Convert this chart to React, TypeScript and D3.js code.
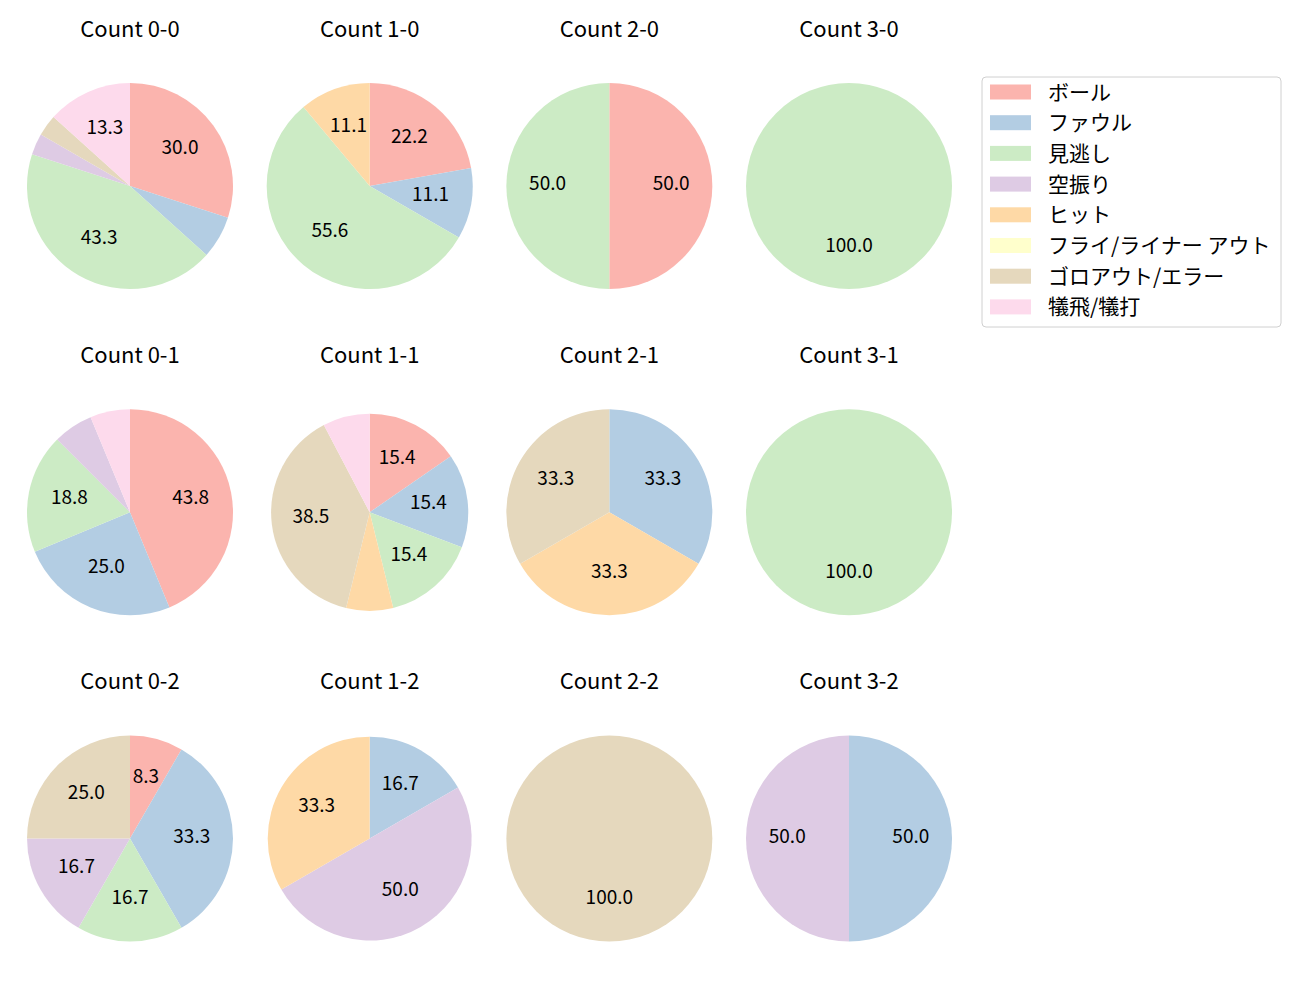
import React from "react";
import * as d3 from "d3";

const categories = [
  "ボール",
  "ファウル",
  "見逃し",
  "空振り",
  "ヒット",
  "フライ/ライナー アウト",
  "ゴロアウト/エラー",
  "犠飛/犠打",
];

const colors = ["#fbb4ae", "#b3cde3", "#ccebc5", "#decbe4", "#fed9a6", "#ffffcc", "#e5d8bd", "#fddaec"];

const countLabels = ["0-0", "1-0", "2-0", "3-0", "0-1", "1-1", "2-1", "3-1", "0-2", "1-2", "2-2", "3-2"];

// pitch-outcome counts per ball-strike count, in category order
const c00 = [9, 2, 13, 1, 0, 0, 1, 4];
const c10 = [2, 1, 5, 0, 1, 0, 0, 0];
const c20 = [1, 0, 1, 0, 0, 0, 0, 0];
const c30 = [0, 0, 1, 0, 0, 0, 0, 0];
const c01 = [7, 4, 3, 1, 0, 0, 0, 1];
const c11 = [2, 2, 2, 0, 1, 0, 5, 1];
const c21 = [0, 1, 0, 0, 1, 0, 1, 0];
const c31 = [0, 0, 1, 0, 0, 0, 0, 0];
const c02 = [1, 4, 2, 2, 0, 0, 3, 0];
const c12 = [0, 1, 0, 3, 2, 0, 0, 0];
const c22 = [0, 0, 0, 0, 0, 0, 1, 0];
const c32 = [0, 1, 0, 1, 0, 0, 0, 0];

const panelValues = [c00, c10, c20, c30, c01, c11, c21, c31, c02, c12, c22, c32];

const FONT = "'Noto Sans CJK JP', 'Noto Sans', sans-serif";
const W = 1300;
const H = 1000;
const col0 = 130;
const colStep = 239.67;
const row0 = 186;
const rowStep = 326.3;
const R = 103;
const radiusFactor = [1, 1, 1, 1, 1, 0.957, 1, 1, 1, 0.99, 1, 1];

function Pie({ values, title, cx, cy, r }: { values: number[]; title: string; cx: number; cy: number; r: number }) {
  const total = d3.sum(values);
  const pie = d3
    .pie<number>()
    .sort(null)
    .value((d) => d)
    .startAngle(0)
    .endAngle(2 * Math.PI);
  const arcs = pie(values);
  const arc = d3.arc<d3.PieArcDatum<number>>().innerRadius(0).outerRadius(r);
  const labelArc = d3.arc<d3.PieArcDatum<number>>().innerRadius(r * 0.6).outerRadius(r * 0.6);
  return (
    <g>
      <text x={cx} y={cy - 149.5} textAnchor="middle" fontSize={22} fontFamily={FONT} fill="#000">
        {"Count " + title}
      </text>
      <g transform={`translate(${cx},${cy})`}>
        {arcs.map((a, i) =>
          a.value > 0 ? <path key={i} d={arc(a) || ""} fill={colors[i]} stroke="none" /> : null
        )}
        {arcs.map((a, i) => {
          const pct = (a.value / total) * 100;
          if (a.value <= 0 || pct < 8) return null;
          const [x, y] = labelArc.centroid(a);
          return (
            <text key={"t" + i} x={x} y={y} dy="0.21em" textAnchor="middle" fontSize={19} fontFamily={FONT} fill="#000">
              {pct.toFixed(1)}
            </text>
          );
        })}
      </g>
    </g>
  );
}

export default function App() {
  const lx = 982;
  const ly = 77;
  const lw = 299;
  const lh = 250;
  const rowPitch = 30.7;
  return (
    <svg
      width={W}
      height={H}
      style={{ display: "block", position: "absolute", left: 0, top: 0 }}
      viewBox={`0 0 ${W} ${H}`}
    >
      <rect x={0} y={0} width={W} height={H} fill="#fff" />
      {panelValues.map((v, k) => {
        const row = Math.floor(k / 4);
        const col = k % 4;
        return (
          <Pie
            key={k}
            values={v}
            title={countLabels[k]}
            cx={col0 + col * colStep}
            cy={row0 + row * rowStep}
            r={R * radiusFactor[k]}
          />
        );
      })}
      <rect x={lx} y={ly} width={lw} height={lh} rx={4} fill="#fff" stroke="#d0d0d0" strokeWidth={1} />
      {categories.map((c, i) => {
        const yc = ly + 15 + i * rowPitch;
        return (
          <g key={c}>
            <rect x={990} y={yc - 7.5} width={41} height={15} fill={colors[i]} />
            <text x={1048} y={yc} dy="0.36em" fontSize={21} fontFamily={FONT} fill="#000">
              {c}
            </text>
          </g>
        );
      })}
    </svg>
  );
}
